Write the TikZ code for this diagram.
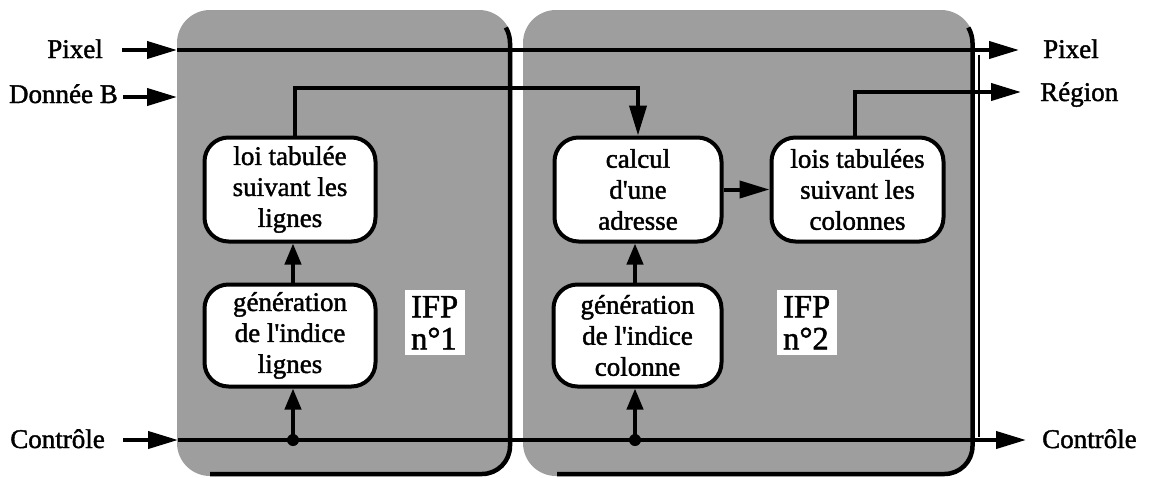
\documentclass[tikz,border=0pt]{standalone}
\usepackage{fontspec}
\setmainfont{Liberation Serif}[BoldFont={Liberation Serif},BoldFeatures={FakeBold=1.5}]
\usetikzlibrary{arrows.meta}
\begin{document}
\begin{tikzpicture}[x=1pt,y=-1pt,
  font=\fontsize{27}{31}\selectfont\bfseries,
  wire/.style={line width=4pt},
  arr/.style={wire,-{Triangle[length=30pt,width=17pt]}},
  sarr/.style={wire,-{Triangle[length=21pt,width=16pt]}},
  panel/.style={fill=black!38, rounded corners=33pt},
  rim/.style={line width=4.5pt},
  blk/.style={draw, line width=4pt, fill=white, rounded corners=24pt, align=center, inner sep=0pt},
  lbl/.style={inner sep=0pt},
  tag/.style={fill=white, align=left, inner xsep=6pt, inner ysep=0pt, text width=48pt,
              minimum height=65pt, anchor=north west, font=\fontsize{32.5}{32}\selectfont\bfseries},
  jdot/.style={fill=black}
]
\useasboundingbox (0,0) rectangle (1151,477);

% panels
\fill[panel] (177,10) rectangle (512,476);
\fill[panel] (523,10) rectangle (974,476);
\draw[rim] (505.8,27.5) .. controls (508.5,32.2) and (510,37.6) .. (510,43) -- (510,446)
  .. controls (510,461.5) and (497.5,474) .. (482,474) -- (210,474);
\draw[rim] (968.3,27.5) .. controls (971,32.2) and (972.5,37.6) .. (972.5,43) -- (972.5,446)
  .. controls (972.5,461.5) and (960,474) .. (944.5,474) -- (557,474);
\draw[line width=1.3pt] (979,55) -- (979,437);

% labels outside
\node[lbl, anchor=base east] (pixin) at (103,58) {Pixel};
\node[lbl, anchor=base east] (dbin) at (118,103) {Donnée B};
\node[lbl, anchor=base east] (ctin) at (105,448) {Contrôle};
\node[lbl, anchor=base west] (pixout) at (1043,58) {Pixel};
\node[lbl, anchor=base west] (regout) at (1040,101) {Région};
\node[lbl, anchor=base west] (ctout) at (1042,448) {Contrôle};

% blocks
\node[blk, minimum width=171pt, minimum height=104pt] (lt) at (290,189.5) {loi tabulée\\suivant les\\lignes};
\node[blk, minimum width=171pt, minimum height=102pt] (gl) at (290,335.5) {génération\\de l\textquotesingle indice\\lignes};
\node[blk, minimum width=167pt, minimum height=104pt] (ca) at (638,189.5) {calcul\\d\textquotesingle une\\adresse};
\node[blk, minimum width=172pt, minimum height=104pt] (lc) at (857.5,189.5) {lois tabulées\\suivant les\\colonnes};
\node[blk, minimum width=168pt, minimum height=102pt] (gc) at (637.5,335.5) {génération\\de l\textquotesingle indice\\colonne};

\node[tag] (ifp1) at (405,290) {IFP\\n°1};
\node[tag] (ifp2) at (777,290) {IFP\\n°2};

% coordinates
\coordinate (p0) at (122,50);
\coordinate (pA) at (177,50);
\coordinate (pB) at (1019,50);
\coordinate (d0) at (123,97);
\coordinate (dA) at (177,97);
\coordinate (c0) at (123,440);
\coordinate (cA) at (178,440);
\coordinate (cB) at (1026,440);
\coordinate (j1) at (293,440);
\coordinate (j2) at (635,440);
\coordinate (k1) at (295,88);
\coordinate (k2) at (638,88);
\coordinate (r1) at (855,92);
\coordinate (r2) at (1021,92);

% connectors
\draw[arr] (p0) -- (pA);
\draw[arr] (pA) -- (pB);
\draw[arr] (d0) -- (dA);
\draw[arr] (c0) -- (cA);
\draw[arr] (cA) -- (cB);
\fill[jdot] (j1) circle (6pt);
\fill[jdot] (j2) circle (6pt);
\draw[sarr] (j1) -- (gl.south -| j1);
\draw[sarr] (j2) -- (gc.south -| j2);
\draw[sarr] (gl.north -| j1) -- (lt.south -| j1);
\draw[sarr] (gc.north -| j2) -- (ca.south -| j2);
\draw[arr] (lt.north -| k1) -- (k1) -- (k2) -- (ca.north -| k2);
\draw[arr] (ca.east) -- (lc.west);
\draw[arr] (lc.north -| r1) -- (r1) -- (r2);
\end{tikzpicture}
\end{document}
